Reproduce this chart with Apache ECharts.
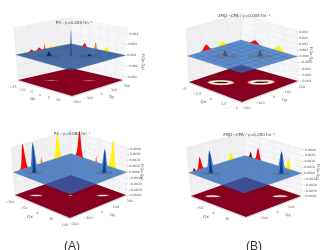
<!DOCTYPE html>
<html><head><meta charset="utf-8">
<style>html,body{margin:0;padding:0;background:#fff}#c{width:332px;height:250px;filter:blur(.3px)}</style>
<script src="https://cdn.jsdelivr.net/npm/echarts@6/dist/echarts.min.js"></script></head>
<body><div id="c"></div>
<script>
// ---- chart values ----
const titles = ['PX : γ=0.200 fm⁻¹', '2MJ2−CPA : γ=0.005 fm⁻¹', 'PX : γ=0.080 fm⁻¹', '2MJ2−CPA : γ=0.050 fm⁻¹'];
const panelLetters = ['(A)', '(B)'];
const qxTicksTL = [-15, -10, -5, 0, 5, 10];
const qxTicksTR = [-5, -2.5, 0, 2.5, 5];
const qxTicksBL = [-100, -50, 0, 50, 100];
const qxTicksBR = [-50, 0, 50];
const qyTicksTL = [-200, -100, 0, 100, 200];
const qyTicksTR = [-200, -100, 0, 100, 200];
const qyTicksBL = [-200, -100, 0, 100, 200];
const qyTicksBR = [-100, 0, 100];
const zTicksTL = [-0.004, -0.002, 0, 0.002, 0.004];
const zTicksOther = [-0.004, -0.003, -0.002, -0.001, 0, 0.001, 0.002, 0.003, 0.004];
// wall peaks: wall (L or R), centre, half width, height, colour name
const wallPeaksTL = [['L',-88,28,0.0004,'red'],['L',-32,28,0.0005,'red'],['L',8,12,0.0011,'orange'],['L',52,28,0.0004,'yellow'],['L',104,28,0.0003,'yellow'],
  ['R',-7.5,1.8,0.0007,'red'],['R',-1.5,1.2,0.0013,'orange'],['R',4.5,2.4,0.0008,'yellow']];
const wallPeaksTR = [['L',-60,52,0.0009,'red'],['L',60,52,0.0007,'yellow'],['R',-2.5,1.3,0.0006,'red'],['R',1.7,1.3,0.0009,'yellow']];
const wallPeaksBL = [['L',-124,30,0.0044,'red'],['L',-4,10,0.001,'orange'],['L',108,30,0.0043,'yellow'],
  ['R',-70,15,0.0047,'red'],['R',-10,5,0.0011,'orange'],['R',48,15,0.005,'yellow']];
const wallPeaksBR = [['L',-160,16,0.0005,'maroon'],['L',-116,26,0.0021,'red'],['L',100,26,0.0015,'yellow'],
  ['R',-80,8,0.001,'maroon'],['R',-54,13,0.0021,'red'],['R',52,13,0.0019,'yellow']];
// surface peaks: qx, qy, half width (qy units), height
const surfacePeaksTL = [[-6,-80,30,0.0008],[5,68,30,0.0004],[0,0,4,0.005]];
const surfacePeaksTR = [[-1.5,-60,30,0.001],[1.65,66,30,0.0011]];
const surfacePeaksBL = [[-63,-126,19,0.0052],[60,120,19,0.0041]];
const surfacePeaksBR = [[-60,-120,21,0.0039],[64,128,21,0.0039]];
// floor rings: qx, qy, long half axis, short half axis
const floorRingsTL = [[-6,-70,0.07,0.02],[5,70,0.07,0.02],[0,0,0.012,0.008]];
const floorRingsTR = [[-2,-80,0.125,0.07],[1.7,68,0.125,0.07]];
const floorRingsBL = [[-62,-124,0.06,0.022],[58,116,0.06,0.022],[0,0,0.02,0.006]];
const floorRingsBR = [[-60,-120,0.07,0.026],[62,124,0.07,0.026]];

// ---- styles and layout ----
const C = {red:'#f00a0a', orange:'#ff7a10', yellow:'#fff010', maroon:'#7a0010'};
const SHAPE = [0,0.05,0.17,0.45,0.82,1,0.82,0.45,0.17,0.05,0];
const panels = [
 {box:{fL:[18,80],fF:[72,96],fR:[123,80],fB:[71,68],tL:[14,27],tF:[71,42],tR:[128,28],tB:[71,17]},
  qx:[-15,15],qy:[-200,200],z:[-0.0046,0.0051],gridN:24,gridA:.4,gridW:.5,
  qxT:qxTicksTL,qyT:qyTicksTL,zT:zTicksTL,zDec:3,wall:wallPeaksTL,surf:surfacePeaksTL,rings:floorRingsTL,
  ringCols:[[1,1,'#b8303c'],[.5,.5,'#e08080']],zName:[143,62],title:[69,18],peakOuter:'#3c6aa8',peakInner:'#0f2d66',base:'#3f5f92'},
 {box:{fL:[189,82],fF:[242,102],fR:[298,81],fB:[241,65],tL:[186,28],tF:[240,42],tR:[297,30],tB:[241,13]},
  qx:[-5,5],qy:[-200,200],z:[-0.004,0.0043],gridN:8,gridA:.3,gridW:.4,
  qxT:qxTicksTR,qyT:qyTicksTR,zT:zTicksOther,zDec:3,wall:wallPeaksTR,surf:surfacePeaksTR,rings:floorRingsTR,
  ringCols:[[1,1,'#e0906c'],[.88,.8,'#fff4e4'],[.55,.3,'#2a2020']],zName:[311,55],title:[239,11],peakOuter:'#6a80a4',peakInner:'#3c5a8c',base:'#66788f'},
 {box:{fL:[15,195],fF:[70,218],fR:[126,195],fB:[71,175],tL:[11,147],tF:[70,168],tR:[128,147],tB:[71,130]},
  qx:[-100,100],qy:[-200,200],z:[-0.0039,0.0043],gridN:20,gridA:.2,gridW:.4,
  qxT:qxTicksBL,qyT:qyTicksBL,zT:zTicksOther,zDec:4,wall:wallPeaksBL,surf:surfacePeaksBL,rings:floorRingsBL,
  ringCols:[[1,1,'#d86a70'],[.7,.6,'#f8e6dc']],zName:[142,172],title:[67,129],peakOuter:'#4d82c4',peakInner:'#123f8c',base:'#5b6f8c'},
 {box:{fL:[191,196],fF:[246,217],fR:[301,196],fB:[245,177],tL:[186,147],tF:[242,167],tR:[303,148],tB:[245,132]},
  qx:[-100,100],qy:[-200,200],z:[-0.0039,0.0043],gridN:20,gridA:.2,gridW:.4,
  qxT:qxTicksBR,qyT:qyTicksBR,zT:zTicksOther,zDec:4,wall:wallPeaksBR,surf:surfacePeaksBR,rings:floorRingsBR,
  ringCols:[[1,1,'#dc9a90'],[.8,.7,'#fff6ee'],[.4,.25,'#b08a88']],zName:[318,172],title:[244,130],peakOuter:'#4d82c4',peakInner:'#123f8c',base:'#5b6f8c'}
];

function makeProjector(p){
  const nx=q=>(q-p.qx[0])/(p.qx[1]-p.qx[0]), ny=q=>(q-p.qy[0])/(p.qy[1]-p.qy[0]);
  const t=z=>(z-p.z[0])/(p.z[1]-p.z[0]);
  const bil=(L,F,R,B,a,b)=>[0,1].map(i=>(1-a)*(1-b)*L[i]+a*(1-b)*F[i]+a*b*R[i]+(1-a)*b*B[i]);
  const b=p.box;
  const proj=(a,c,tt)=>{const f=bil(b.fL,b.fF,b.fR,b.fB,a,c),u=bil(b.tL,b.tF,b.tR,b.tB,a,c);
    return [f[0]+(u[0]-f[0])*tt,f[1]+(u[1]-f[1])*tt];};
  return {nx,ny,t,proj};
}
function ellipsePts(P,a0,c0,a,b,tt){
  const out=[];
  for(let i=0;i<28;i++){const th=i/28*Math.PI*2,ca=a*Math.cos(th),sb=b*Math.sin(th);
    out.push(P.proj(a0+ca+sb,c0+ca-sb,tt));}
  return out;
}
function buildPrims(p){
  const P=makeProjector(p),prims=[],poly=(pts,fill,stroke,lw,op)=>prims.push({k:'p',pts,fill,stroke,lw,op});
  const line=(pts,stroke,lw,op)=>prims.push({k:'l',pts,stroke,lw,op});
  const text=(xy,s,o)=>prims.push(Object.assign({k:'t',xy,s},o||{}));
  const t0=P.t(0);
  // walls
  poly([P.proj(0,0,0),P.proj(0,1,0),P.proj(0,1,1),P.proj(0,0,1)],'#f0f0f2');
  poly([P.proj(0,1,0),P.proj(1,1,0),P.proj(1,1,1),P.proj(0,1,1)],'#f6f6f8');
  p.zT.forEach(z=>{const tt=P.t(z);
    line([P.proj(0,0,tt),P.proj(0,1,tt),P.proj(1,1,tt)],'#e2e2e5',.4);});
  p.qyT.forEach(q=>{const c=P.ny(q);line([P.proj(0,c,0),P.proj(0,c,1)],'#e2e2e5',.4);});
  p.qxT.forEach(q=>{const a=P.nx(q);line([P.proj(a,1,0),P.proj(a,1,1)],'#e2e2e5',.4);});
  // wall peak projections
  p.wall.forEach(w=>{
    const pts=SHAPE.map((h,i)=>{const off=-1+i/5,tt=P.t(h*w[3]);
      return w[0]==='L'?P.proj(0,P.ny(w[1]+off*w[2]),tt):P.proj(P.nx(w[1]+off*w[2]),1,tt);});
    poly(pts,C[w[4]]);
  });
  // floor with its pale outer edge
  const edge=[P.proj(0,0,0),P.proj(1,0,0),P.proj(1,1,0)].map(q=>[q[0],q[1]+.8]);
  line(edge,'#c4c4c8',.7);
  poly([P.proj(0,0,0),P.proj(1,0,0),P.proj(1,1,0),P.proj(0,1,0)],'#860020');
  p.rings.forEach(r=>p.ringCols.forEach(rc=>poly(ellipsePts(P,P.nx(r[0]),P.ny(r[1]),r[2]*rc[0],r[3]*rc[1],0),rc[2])));
  // surface plane and wireframe
  poly([P.proj(0,0,t0),P.proj(1,0,t0),P.proj(1,1,t0),P.proj(0,1,t0)],'#2c6cc0',null,0,.75);
  for(let i=0;i<=p.gridN;i++){const f=i/p.gridN;
    line([P.proj(f,0,t0),P.proj(f,1,t0)],'#1a2a48',p.gridW,p.gridA);
    line([P.proj(0,f,t0),P.proj(1,f,t0)],'#1a2a48',p.gridW,p.gridA);}
  // surface peaks
  p.surf.forEach(s=>{
    const a0=P.nx(s[0]),c0=P.ny(s[1]),dn=s[2]/(p.qy[1]-p.qy[0]);
    poly(ellipsePts(P,a0,c0,dn*1.5,dn*.8,t0),p.base,null,0,.8);
    poly(SHAPE.map((h,i)=>{const off=(-1+i/5)*dn;return P.proj(a0+off,c0+off,P.t(h*s[3]));}),p.peakOuter);
    poly(SHAPE.map((h,i)=>{const off=(-1+i/5)*dn*.42;return P.proj(a0+off,c0+off,P.t(h*s[3]));}),p.peakInner);
  });
  // axis ticks and labels
  const col='#555';
  p.qxT.forEach(q=>{const xy=P.proj(P.nx(q),0,0);
    text([xy[0]-5,xy[1]+7],String(q).replace('-','−'),{size:3.3,fill:col});});
  p.qyT.forEach(q=>{const xy=P.proj(1,P.ny(q),0);
    text([xy[0]+4,xy[1]+6],String(q).replace('-','−'),{size:3.3,fill:col});});
  p.zT.forEach(z=>{const xy=P.proj(1,1,P.t(z));
    line([xy,[xy[0]+1.2,xy[1]]],'#777',.4);
    text([xy[0]+2,xy[1]],z.toFixed(p.zDec).replace('-','−'),{size:3.1,fill:col,align:'left'});});
  const a=P.proj(.42,0,0),c=P.proj(1,.62,0);
  text([a[0]-8,a[1]+12],'Qx',{size:4,fill:col});
  text([c[0]+8,c[1]+11],'Qy',{size:3.8,fill:col});
  text(p.zName,'F(Qx,Qy)',{size:3.6,fill:col,rot:-Math.PI/2});
  return prims;
}

const chart=echarts.init(document.getElementById('c'),null,{renderer:'canvas'});
const series=panels.map(p=>{
  const prims=buildPrims(p);
  return {type:'custom',coordinateSystem:'cartesian2d',clip:false,silent:true,animation:false,
    data:prims.map((_,i)=>[i,0]),
    renderItem:(params,api)=>{
      const m=prims[params.dataIndex];
      if(m.k==='t'){const xy=api.coord(m.xy);
        return {type:'text',x:xy[0],y:xy[1],rotation:m.rot||0,
          style:{text:m.s,x:0,y:0,fill:m.fill,align:m.align||'center',verticalAlign:'middle',font:m.size+'px "DejaVu Sans"'}};}
      const points=m.pts.map(q=>api.coord(q));
      if(m.k==='l') return {type:'polyline',shape:{points},style:{stroke:m.stroke,lineWidth:m.lw,fill:null,opacity:m.op==null?1:m.op}};
      return {type:'polygon',shape:{points},style:{fill:m.fill,stroke:m.stroke||null,lineWidth:m.lw||0,opacity:m.op==null?1:m.op}};
    }};
});
const titleBlocks=panels.map((p,i)=>({text:titles[i],left:p.title[0],top:p.title[1],textAlign:'center',textVerticalAlign:'middle',
  textStyle:{fontFamily:'DejaVu Sans',fontSize:4,fontWeight:'normal',color:'#444'}}));
[67,249].forEach((x,i)=>titleBlocks.push({text:panelLetters[i],left:x,top:242,textAlign:'center',textVerticalAlign:'middle',
  textStyle:{fontFamily:'Liberation Sans',fontSize:12,fontWeight:'normal',color:'#333'}}));
chart.setOption({animation:false,backgroundColor:'#fff',title:titleBlocks,
  grid:{left:0,right:0,top:0,bottom:0},
  xAxis:{type:'value',min:0,max:332,show:false},
  yAxis:{type:'value',min:0,max:250,inverse:true,show:false},
  series});
</script></body></html>
